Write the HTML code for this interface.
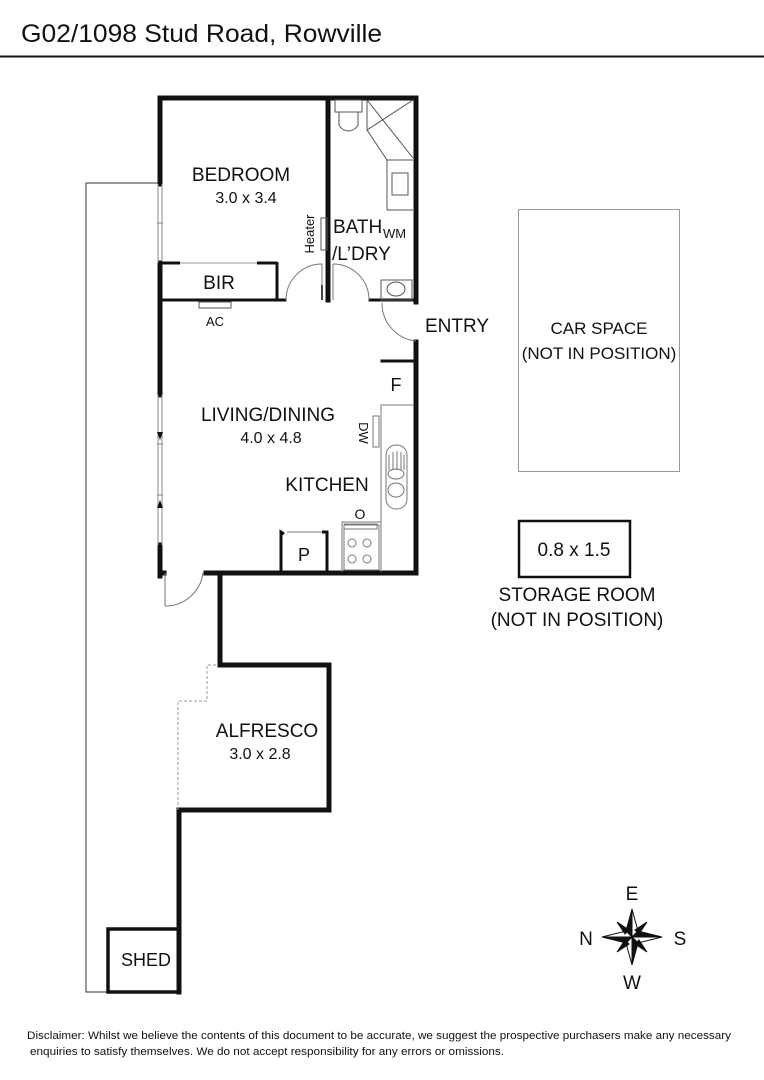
<!DOCTYPE html>
<html><head><meta charset="utf-8"><style>
html,body{margin:0;padding:0;background:#fff;}
svg{display:block;}
text{font-family:"Liberation Sans",sans-serif;fill:#111;}
</style></head><body>
<svg width="764" height="1080" viewBox="0 0 764 1080" xmlns="http://www.w3.org/2000/svg">
<text x="21" y="42" font-size="25" textLength="361" lengthAdjust="spacingAndGlyphs">G02/1098 Stud Road, Rowville</text>
<line x1="0" y1="56.5" x2="764" y2="56.5" stroke="#111" stroke-width="2"/>

<polyline points="160,183 86,183 86,992 108,992" fill="none" stroke="#333" stroke-width="1"/>

<g stroke="#111" stroke-width="5" fill="none" stroke-linecap="square">
<line x1="160" y1="98" x2="416" y2="98"/>
<line x1="416" y1="98" x2="416" y2="302"/>
<line x1="416" y1="342" x2="416" y2="573"/>
<line x1="206" y1="573" x2="416" y2="573"/>
<line x1="160" y1="573" x2="164" y2="573"/>
<line x1="160" y1="98" x2="160" y2="184"/>
<line x1="160" y1="263" x2="160" y2="395"/>
<line x1="160" y1="545" x2="160" y2="576"/>
<polyline points="220,573 220,665 329,665 329,810 179,810 179,992"/>
<line x1="328" y1="98" x2="328" y2="300"/>
<line x1="160" y1="300" x2="285" y2="300" stroke-width="3"/>
<line x1="370" y1="300" x2="416" y2="300" stroke-width="3"/>
<line x1="382" y1="361" x2="416" y2="361" stroke-width="3"/>
</g>
<line x1="322" y1="285" x2="322" y2="300" stroke="#111" stroke-width="2"/>
<rect x="108" y="929" width="71" height="63" fill="none" stroke="#111" stroke-width="3.5"/>
<text x="146" y="966" font-size="18" text-anchor="middle">SHED</text>
<g stroke="#888" stroke-width="1" fill="none">
<line x1="158" y1="184" x2="158" y2="263"/><line x1="162" y1="184" x2="162" y2="263"/>
<line x1="158" y1="395" x2="158" y2="545"/><line x1="162" y1="395" x2="162" y2="545"/>
<line x1="157" y1="223" x2="163" y2="223"/><line x1="157" y1="444" x2="163" y2="444"/><line x1="157" y1="495" x2="163" y2="495"/>
</g>
<polygon points="157,432 163,432 160,440" fill="#111"/>
<polygon points="157,508 163,508 160,500" fill="#111"/>
<polyline points="178,810 178,701 207,701 207,665 218,665" fill="none" stroke="#999" stroke-width="1" stroke-dasharray="3,2"/>
<g stroke="#777" stroke-width="1" fill="none">
<path d="M286,300 A36,36 0 0 1 322,264 L322,300"/>
<path d="M333,264 A36,36 0 0 1 369,300"/>
<line x1="333" y1="264" x2="333" y2="300"/>
<path d="M382,303 A38,38 0 0 0 416,341"/>
<path d="M165,606 A38,38 0 0 0 203,573"/>
<line x1="165" y1="573" x2="165" y2="606"/>
</g>
<line x1="160" y1="263" x2="180" y2="263" stroke="#111" stroke-width="3"/>
<line x1="180" y1="263" x2="257" y2="263" stroke="#999" stroke-width="1"/>
<line x1="257" y1="263" x2="277" y2="263" stroke="#111" stroke-width="3"/>
<line x1="277" y1="262" x2="277" y2="300" stroke="#111" stroke-width="3"/>
<text x="219" y="289" font-size="19" text-anchor="middle">BIR</text>
<rect x="199" y="302" width="32" height="6" fill="none" stroke="#555" stroke-width="1"/>
<text x="215" y="326" font-size="13" text-anchor="middle">AC</text>
<g stroke="#555" stroke-width="1" fill="none">
<rect x="335" y="100" width="27" height="12"/>
<path d="M339,112 L339,125 A11,12 0 0 0 358,125 L358,112"/>
<polyline points="367,100 367,130 387,160 413,160"/>
<line x1="367" y1="100" x2="413" y2="158"/><line x1="413" y1="100" x2="367" y2="130"/>
<line x1="387" y1="160" x2="387" y2="210"/><line x1="387" y1="210" x2="413" y2="210"/>
<rect x="392" y="173" width="16" height="22"/>
<rect x="321" y="218" width="6" height="32"/>
<rect x="381" y="280" width="31" height="20"/>
<ellipse cx="396" cy="289" rx="9" ry="7"/>
</g>
<text x="310" y="234" font-size="13" text-anchor="middle" transform="rotate(-90 310 234)" dy="4">Heater</text>
<text x="333" y="233" font-size="19">BATH</text>
<text x="383" y="238" font-size="13">WM</text>
<text x="332" y="260" font-size="19">/L’DRY</text>
<text x="241" y="181" font-size="19" text-anchor="middle">BEDROOM</text>
<text x="246" y="203" font-size="16" text-anchor="middle">3.0 x 3.4</text>
<g stroke="#777" stroke-width="1" fill="none">
<polyline points="413,405 381,405 381,522 342,522 342,572"/>
<line x1="381" y1="522" x2="381" y2="572"/>
<rect x="373" y="416" width="6" height="31"/>
<rect x="386" y="445" width="21" height="64" rx="10"/>
<line x1="389" y1="455" x2="389" y2="470"/><line x1="393" y1="452" x2="393" y2="470"/><line x1="397" y1="451" x2="397" y2="470"/><line x1="401" y1="452" x2="401" y2="470"/><line x1="404" y1="455" x2="404" y2="470"/>
<ellipse cx="396" cy="474" rx="8" ry="5"/><ellipse cx="396" cy="490" rx="8" ry="7"/>
<rect x="344" y="525" width="35" height="45"/>
<rect x="344" y="524" width="33" height="5"/>
<circle cx="352" cy="543" r="4"/><circle cx="367" cy="543" r="4"/>
<circle cx="352" cy="559" r="4"/><circle cx="367" cy="559" r="4"/>
<line x1="287" y1="532" x2="323" y2="532"/>
</g>
<polyline points="284,534 281,532 281,573" fill="none" stroke="#111" stroke-width="3"/>
<polyline points="322,532 327,532 327,573" fill="none" stroke="#111" stroke-width="3"/>
<text x="304" y="561" font-size="18" text-anchor="middle">P</text>
<text x="360" y="519" font-size="14" text-anchor="middle">O</text>
<text x="363" y="433" font-size="13" text-anchor="middle" transform="rotate(90 363 433)" dy="4">DW</text>
<text x="396" y="391" font-size="18" text-anchor="middle">F</text>
<text x="268" y="421" font-size="19" text-anchor="middle">LIVING/DINING</text>
<text x="271" y="443" font-size="16" text-anchor="middle">4.0 x 4.8</text>
<text x="327" y="491" font-size="19" text-anchor="middle">KITCHEN</text>
<text x="425" y="332" font-size="19">ENTRY</text>
<text x="267" y="737" font-size="19" text-anchor="middle">ALFRESCO</text>
<text x="260" y="759" font-size="16" text-anchor="middle">3.0 x 2.8</text>
<rect x="518.5" y="209.5" width="161" height="262" fill="none" stroke="#999" stroke-width="1"/>
<text x="599" y="334" font-size="17" text-anchor="middle">CAR SPACE</text>
<text x="599" y="359" font-size="17" text-anchor="middle">(NOT IN POSITION)</text>
<rect x="519" y="521" width="111" height="56" fill="none" stroke="#111" stroke-width="2.5"/>
<text x="574" y="556" font-size="19" text-anchor="middle">0.8 x 1.5</text>
<text x="577" y="601" font-size="19" text-anchor="middle">STORAGE ROOM</text>
<text x="577" y="626" font-size="19" text-anchor="middle">(NOT IN POSITION)</text>
<g transform="translate(632,937)" stroke="#111" stroke-width="1">
<polygon points="0,-28 -6,-6 0,0" fill="#111"/><polygon points="0,-28 6,-6 0,0" fill="#fff"/>
<polygon points="30,0 6,-6 0,0" fill="#111"/><polygon points="30,0 6,6 0,0" fill="#fff"/>
<polygon points="0,28 6,6 0,0" fill="#111"/><polygon points="0,28 -6,6 0,0" fill="#fff"/>
<polygon points="-30,0 -6,6 0,0" fill="#111"/><polygon points="-30,0 -6,-6 0,0" fill="#fff"/>
<polygon points="15,-15 3,-7 7,-3" fill="#111"/>
<polygon points="15,15 7,3 3,7" fill="#111"/>
<polygon points="-15,15 -3,7 -7,3" fill="#111"/>
<polygon points="-15,-15 -7,-3 -3,-7" fill="#111"/>
</g>
<text x="632" y="900" font-size="19" text-anchor="middle">E</text>
<text x="632" y="989" font-size="19" text-anchor="middle">W</text>
<text x="586" y="945" font-size="19" text-anchor="middle">N</text>
<text x="680" y="945" font-size="19" text-anchor="middle">S</text>
<text x="27" y="1039" font-size="11" textLength="704" lengthAdjust="spacingAndGlyphs">Disclaimer: Whilst we believe the contents of this document to be accurate, we suggest the prospective purchasers make any necessary</text>
<text x="30" y="1055" font-size="11" textLength="474" lengthAdjust="spacingAndGlyphs">enquiries to satisfy themselves. We do not accept responsibility for any errors or omissions.</text>
</svg>
</body></html>
